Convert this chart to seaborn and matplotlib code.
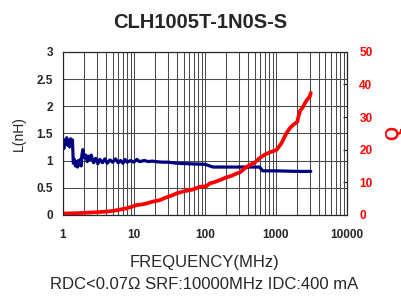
# ============================================================
# IMPORT LIBRARIES
# ============================================================

import matplotlib
matplotlib.use("Agg")
import matplotlib.pyplot as plt
import seaborn as sns
from matplotlib.ticker import FixedLocator, LogLocator, NullFormatter

# ============================================================
# DATA
# ============================================================

l_freq = [1.0, 1.03, 1.06, 1.1, 1.13, 1.17, 1.2, 1.24, 1.28, 1.32,
          1.36, 1.4, 1.45, 1.5, 1.55, 1.6, 1.65, 1.7, 1.75, 1.8,
          1.85, 1.9, 2.0, 2.1, 2.2, 2.3, 2.4, 2.5, 2.7, 2.9,
          3.1, 3.3, 3.6, 3.9, 4.2, 4.6, 5.0, 5.5, 6.0, 6.5,
          7.0, 7.5, 8.0, 9.0, 10, 11, 12, 14, 16, 18,
          20, 25, 30, 40, 60, 100, 130, 300, 590, 650,
          1000, 2000, 3100]

l_nh = [1.33, 1.22, 1.38, 1.30, 1.42, 1.28, 1.36, 1.25, 1.40, 1.30,
        1.38, 0.95, 1.02, 0.90, 0.98, 0.88, 1.00, 0.92, 1.02, 0.90,
        1.10, 1.20, 1.05, 1.10, 0.98, 1.08, 1.02, 1.10, 0.96, 1.04,
        0.94, 1.02, 0.96, 1.03, 0.95, 1.01, 0.97, 1.03, 0.96, 1.00,
        0.95, 1.02, 0.97, 1.00, 0.97, 1.02, 0.98, 1.00, 0.98, 0.99,
        0.98, 0.97, 0.97, 0.95, 0.94, 0.93, 0.88, 0.88, 0.88, 0.81,
        0.81, 0.80, 0.80]

q_freq = [1.0, 1.5, 2.4, 3.5, 4.6, 6.0, 7.9, 9.0, 10.9, 13,
          15, 18, 23, 28, 33, 40, 50, 68, 85, 105,
          118, 130, 160, 200, 240, 280, 310, 390, 430, 500,
          590, 700, 850, 1020, 1200, 1400, 1600, 1800, 2000, 2100,
          2200, 2400, 2600, 2800, 3000, 3100]

q_val = [0.4, 0.5, 0.7, 0.9, 1.1, 1.5, 2.0, 2.4, 3.0, 3.2,
         3.5, 4.0, 4.5, 5.3, 5.8, 6.6, 7.2, 7.8, 8.6, 8.8,
         9.7, 9.9, 10.6, 11.5, 12.0, 12.7, 13.0, 14.8, 15.3, 16.0,
         17.4, 18.5, 19.3, 19.9, 22.0, 25.0, 26.8, 27.8, 28.5, 30.5,
         32.0, 33.0, 34.5, 35.5, 36.3, 37.4]

x_ticks = [1, 10, 100, 1000, 10000]
x_labels = ["1", "10", "100", "1000", "10000"]
l_ticks = [0, 0.5, 1, 1.5, 2, 2.5, 3]
l_labels = ["0", "0.5", "1", "1.5", "2", "2.5", "3"]
q_ticks = [0, 10, 20, 30, 40, 50]

# ============================================================
# STYLE
# ============================================================

sns.set_style("white")
plt.rcParams["font.family"] = ["Liberation Sans", "DejaVu Sans"]

BLUE = "#000080"
RED = "#ff0000"
GRID = "#4a4a4a"

# ============================================================
# FIGURE
# ============================================================

fig = plt.figure(figsize=(4.01, 2.98), dpi=100)
ax = fig.add_axes([0.157, 0.279, 0.708, 0.547])

sns.lineplot(x=l_freq, y=l_nh, ax=ax, color=BLUE, linewidth=2.3,
             estimator=None, sort=False)
ax.set_xscale("log")
ax.set_xlim(1, 10000)
ax.set_ylim(0, 3)

ax.xaxis.set_major_locator(FixedLocator(x_ticks))
ax.set_xticklabels(x_labels, fontsize=8.5, fontweight="bold")
ax.xaxis.set_minor_locator(LogLocator(base=10, subs=range(2, 10)))
ax.xaxis.set_minor_formatter(NullFormatter())
ax.set_yticks(l_ticks)
ax.set_yticklabels(l_labels, fontsize=8.5, fontweight="bold")
ax.tick_params(axis="y", which="both", length=0, pad=7)
ax.tick_params(axis="x", which="both", length=0, pad=10)

ax.grid(True, which="major", color=GRID, linewidth=0.75)
ax.grid(True, which="minor", axis="x", color=GRID, linewidth=0.75)

for spine in ax.spines.values():
    spine.set_color("black")
    spine.set_linewidth(0.8)

ax.set_xlabel("FREQUENCY(MHz)", fontsize=12, labelpad=10)
ax.set_ylabel("L(nH)", fontsize=10, labelpad=8)

# ============================================================
# Q AXIS
# ============================================================

ax2 = ax.twinx()
sns.lineplot(x=q_freq, y=q_val, ax=ax2, color=RED, linewidth=2.7,
             estimator=None, sort=False)
ax2.set_ylim(0, 50)
ax2.set_yticks(q_ticks)
ax2.set_yticklabels([str(t) for t in q_ticks], fontsize=8.5,
                    fontweight="bold", color=RED)
ax2.tick_params(axis="y", length=3, direction="in", pad=9)
ax2.set_ylabel("Q", fontsize=13, fontweight="bold", color=RED, labelpad=9)
ax2.grid(False)

# ============================================================
# TITLE AND NOTE
# ============================================================

fig.text(0.5, 0.923, "CLH1005T-1N0S-S", ha="center", va="center",
         fontsize=14.5, fontweight="bold")
fig.text(0.51, 0.044, "RDC<0.07\u03a9 SRF:10000MHz IDC:400 mA",
         ha="center", va="center", fontsize=12)

fig.savefig("out.png", dpi=100)
